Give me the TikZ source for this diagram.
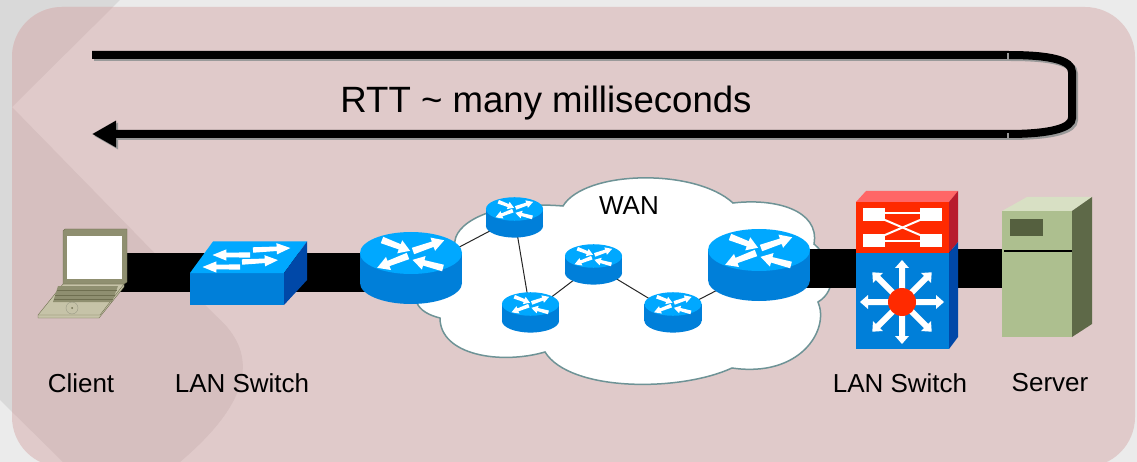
\documentclass[tikz,border=0pt]{standalone}
\usepackage{fontspec}
\setmainfont{Liberation Sans}
\usetikzlibrary{positioning}
\usetikzlibrary{arrows.meta}
\usepackage{xcolor}

\definecolor{outerlight}{HTML}{EBEBEB}
\definecolor{outergray}{HTML}{D9D9D9}
\definecolor{panelpink}{HTML}{E0CACA}
\definecolor{paneldark}{HTML}{D6BFBF}
\definecolor{cloudline}{HTML}{6E9396}
\definecolor{blueup}{HTML}{00A8FF}
\definecolor{bluefront}{HTML}{007FD9}
\definecolor{blueside}{HTML}{0048A8}
\definecolor{redup}{HTML}{FF6666}
\definecolor{redfront}{HTML}{FF2A00}
\definecolor{redside}{HTML}{B81C2E}
\definecolor{srvfront}{HTML}{ADBF8F}
\definecolor{srvup}{HTML}{D8E0C4}
\definecolor{srvside}{HTML}{5E6948}
\definecolor{srvslot}{HTML}{55603F}
\definecolor{lapedge}{HTML}{6F6F50}
\definecolor{lapframe}{HTML}{8F8F70}
\definecolor{lapbase}{HTML}{C6C3A8}

\newcommand{\flatarrow}[5]{\fill[white, shift={(#1,#2)}, rotate=#3, xscale=#4, yscale=#5]
    (0,-3.4) -- (19,-2.8) -- (19,-7) -- (30,0) -- (19,7) -- (19,2.8) -- (0,3.4) -- cycle;}

\tikzset{
    router/.pic={
        \fill[bluefront] (0,30) ellipse[x radius=51, y radius=21];
        \fill[bluefront] (-51,0) rectangle (51,30);
        \fill[blueup] (0,0) ellipse[x radius=51, y radius=21];
        \flatarrow{-29}{-13}{-21}{1}{1}
        \flatarrow{2}{-2}{19}{1.1}{1}
        \flatarrow{-3}{3}{201}{1.1}{1}
        \flatarrow{32}{15}{165}{1.05}{1}
    },
    edgeswitch/.pic={
        \fill[bluefront] (190,273) rectangle (284,305);
        \fill[blueup] (190,273) -- (213,241.5) -- (307,241.5) -- (284,273) -- cycle;
        \fill[blueside] (284,273) -- (307,241.5) -- (307,280) -- (284,305) -- cycle;
        \flatarrow{250}{255}{180}{1.25}{.8}
        \flatarrow{253}{250}{3}{1.25}{.8}
        \flatarrow{242}{262}{3}{1.2}{.8}
        \flatarrow{240}{267}{180}{1.25}{.8}
    },
    coreswitch/.pic={
        \fill[redup] (856,202) -- (866,191) -- (958,191) -- (949,202) -- cycle;
        \fill[redside] (949,202) -- (958,191) -- (958,242) -- (949,253) -- cycle;
        \fill[redfront] (856,202) rectangle (949,253);
        \fill[blueside] (949,253) -- (958,242) -- (958,337) -- (949,349) -- cycle;
        \fill[bluefront] (856,253) rectangle (949,349);
        \foreach \x/\y in {863/208, 920/208, 863/234, 920/234}
            \fill[white] (\x,\y) rectangle ++(21.5,13);
        \draw[white, line width=2pt] (885,213) -- (920,213);
        \draw[white, line width=2pt] (885,241) -- (920,241);
        \draw[white, line width=2pt] (885,220) -- (920,235);
        \draw[white, line width=2pt] (885,235) -- (920,220);
        \foreach \a in {0, 45, ..., 315}
            \fill[white, shift={(902,302)}, rotate=\a]
                (0,-3) -- (34,-3) -- (34,-7) -- (42,0) -- (34,7) -- (34,3) -- (0,3) -- cycle;
        \fill[redfront] (902,302) circle[radius=14];
    },
    servertower/.pic={
        \fill[srvup] (1002,211) -- (1027,197) -- (1092,197) -- (1072,211) -- cycle;
        \fill[srvside] (1072,211) -- (1092,197) -- (1092,324) -- (1072,337) -- cycle;
        \fill[srvfront] (1002,211) rectangle (1072,337);
        \fill[srvslot] (1010,219) rectangle (1043,236);
        \draw[black, line width=2pt] (1004,250.7) -- (1072,250.7);
    },
    laptop/.pic={
        \fill[lapbase, draw=lapedge] (63,284) -- (124,284) -- (124,287) -- (99,318) -- (38,318) -- (38,315) -- cycle;
        \draw[lapedge] (38,315) -- (100,315) -- (124,284);
        \fill[lapframe] (58,286) -- (118,286) -- (112,302) -- (53,302) -- cycle;
        \foreach \y/\l/\r in {290/57/117, 295/55/115, 299/54/113}
            \draw[lapedge, line width=.7pt] (\l,\y) -- (\r,\y);
        \draw[lapedge!70] (72,308) circle[radius=6];
        \fill[lapedge] (72,308) circle[radius=1];
        \fill[lapframe, draw=lapedge] (63,231) -- (65,229) -- (127,229) -- (127,282) -- (124,284) -- (63,284) -- cycle;
        \fill[white] (67,236) rectangle (122,279);
    }
}

\begin{document}
\begin{tikzpicture}[x=1pt, y=-1pt,
        dev/.style={inner sep=0pt, minimum size=0pt},
        lbl/.style={font=\fontsize{26}{30}\selectfont, text=black, inner sep=0pt},
        fatlink/.style={line width=39pt},
        thinlink/.style={line width=1pt, draw=black!85}]
    \useasboundingbox (0,0) rectangle (1137,462);

    % backdrop
    \fill[outerlight] (0,0) rectangle (1137,462);
    \fill[outergray] (0,0) -- (120,0) -- (12,107) -- (215,315)
        .. controls (250,345) and (265,390) .. (180,462) -- (63,462) -- (0,400) -- cycle;
    \fill[panelpink] (12,7) [rounded corners=50pt] -- (1135,7) -- (1135,467) -- (12,467) -- cycle;
    \begin{scope}
        \clip (12,7) [rounded corners=50pt] -- (1135,7) -- (1135,467) -- (12,467) -- cycle;
        \fill[paneldark] (0,0) -- (120,0) -- (12,107) -- (215,315)
            .. controls (250,345) and (265,390) .. (180,462) -- (63,462) -- (0,400) -- cycle;
    \end{scope}

    % cloud
    \draw[fill=white, draw=cloudline, line width=1.5pt] (563,206)
        .. controls (585,170) and (695,168) .. (733,203)
        .. controls (775,198) and (820,210) .. (814,244)
        .. controls (835,262) and (838,290) .. (818,302)
        .. controls (830,330) and (800,378) .. (732,368)
        .. controls (680,392) and (570,392) .. (545,352)
        .. controls (500,365) and (440,355) .. (440,318)
        .. controls (428,315) and (420,310) .. (417,303)
        .. controls (395,280) and (430,260) .. (455,245)
        .. controls (452,225) and (490,200) .. (563,206) -- cycle;

    \node[dev] (client) at (100,272.5) {};
    \node[dev] (switcha) at (240,272.5) {};
    \node[dev] (rtra) at (411,272.5) {};
    \node[dev] (rtrb) at (514.5,218) {};
    \node[dev] (rtrc) at (530.5,313) {};
    \node[dev] (rtrd) at (593.5,265) {};
    \node[dev] (rtre) at (673,313) {};
    \node[dev] (rtrf) at (759,268.5) {};
    \node[dev] (switchb) at (902,268.5) {};
    \node[dev] (server) at (1037,268.5) {};

    \draw[fatlink] (client) -- (switcha);
    \draw[fatlink] (switcha) -- (rtra);
    \draw[fatlink] (rtrf) -- (switchb);
    \draw[fatlink] (switchb) -- (server);

    \draw[thinlink] (rtra) -- (rtrb);
    \draw[thinlink] (rtrb) -- (rtrc);
    \draw[thinlink] ([yshift=-12pt]rtrc) -- (rtrd);
    \draw[thinlink] (rtrd) -- (rtre);
    \draw[thinlink] (rtre) -- ([yshift=20pt]rtrf);

    \pic at (0,0) {laptop};
    \pic at (0,0) {edgeswitch};
    \pic at (411,253) {router};
    \pic[scale=.56] at (514.5,209) {router};
    \pic[scale=.56] at (530.5,304) {router};
    \pic[scale=.56] at (593.5,256) {router};
    \pic[scale=.56] at (673,304) {router};
    \pic at (759,250) {router};
    \pic at (0,0) {coreswitch};
    \pic at (0,0) {servertower};

    % round trip
    \coordinate (rttstart) at (92,55);
    \coordinate (rttend) at (92,134);
    \foreach \c/\s in {black!40/2, black/0}
        \draw[\c, line width=8pt, -{Triangle[length=24pt, width=25pt]},
            transform canvas={shift={(\s pt,-\s pt)}}]
            (rttstart) -- (1008,55) .. controls (1050,55) and (1072,60) .. (1072,72)
            -- (1072,118) .. controls (1072,128) and (1050,134) .. (1008,134) -- (rttend);
    \draw[black!40, line width=1.5pt] (1008,53) -- (1008,60);
    \draw[black!40, line width=1.5pt] (1008,133) -- (1008,139);

    \node[lbl, font=\fontsize{36.6}{40}\selectfont] (rtt) at (546,103) {RTT \textasciitilde{} many milliseconds};
    \node[lbl] (wan) at (629,206) {WAN};
    \node[lbl] (clientlbl) at (81,383) {Client};
    \node[lbl] (switchalbl) at (242,383) {LAN Switch};
    \node[lbl] (switchblbl) at (900,383) {LAN Switch};
    \node[lbl] (serverlbl) at (1050,383) {Server};
\end{tikzpicture}
\end{document}
